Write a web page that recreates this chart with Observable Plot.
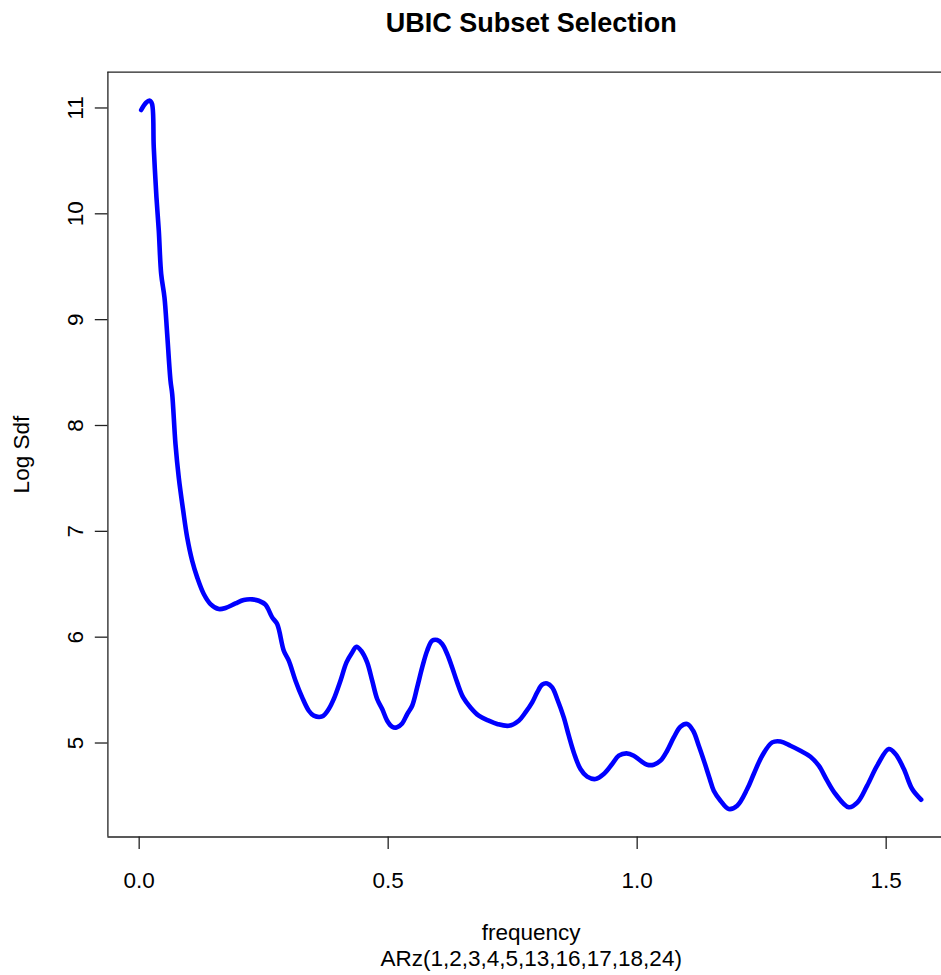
<!DOCTYPE html>
<html>
<head>
<meta charset="utf-8">
<script src="https://cdn.jsdelivr.net/npm/d3@7"></script>
<script src="https://cdn.jsdelivr.net/npm/@observablehq/plot@0.6"></script>
<style>
  html, body { margin: 0; padding: 0; background: white; }
  #chart svg { display: block; }
</style>
</head>
<body>
<div id="chart"></div>
<script>
const title = "UBIC Subset Selection";
const xLabel = "frequency";
const subLabel = "ARz(1,2,3,4,5,13,16,17,18,24)";
const yLabel = "Log Sdf";
const xTicks = [0.0, 0.5, 1.0, 1.5];
const yTicks = [5, 6, 7, 8, 9, 10, 11];

const frequency = [
  0.0040, 0.0137, 0.0213, 0.0257, 0.0293, 0.0347, 0.0394, 0.0442, 0.0508, 0.0562,
  0.0629, 0.0663, 0.0729, 0.0795, 0.0884, 0.0964, 0.1064, 0.1165, 0.1297, 0.1432,
  0.1598, 0.1733, 0.1934, 0.2100, 0.2269, 0.2402, 0.2536, 0.2671, 0.2771, 0.2904,
  0.3004, 0.3139, 0.3273, 0.3406, 0.3506, 0.3675, 0.3807, 0.3908, 0.4042, 0.4163,
  0.4277, 0.4363, 0.4458, 0.4578, 0.4679, 0.4779, 0.4880, 0.4980, 0.5080, 0.5167,
  0.5281, 0.5382, 0.5482, 0.5582, 0.5683, 0.5783, 0.5884, 0.5984, 0.6084, 0.6185,
  0.6285, 0.6386, 0.6506, 0.6653, 0.6819, 0.7020, 0.7189, 0.7422, 0.7622, 0.7757,
  0.7892, 0.7992, 0.8092, 0.8193, 0.8293, 0.8394, 0.8526, 0.8627, 0.8727, 0.8861,
  0.8996, 0.9163, 0.9329, 0.9498, 0.9631, 0.9785, 0.9932, 1.0066, 1.0201, 1.0333,
  1.0468, 1.0602, 1.0735, 1.0869, 1.1004, 1.1124, 1.1237, 1.1351, 1.1458, 1.1538,
  1.1673, 1.1839, 1.2008, 1.2209, 1.2341, 1.2510, 1.2711, 1.2878, 1.3078, 1.3279,
  1.3480, 1.3647, 1.3815, 1.3982, 1.4249, 1.4424, 1.4618, 1.4819, 1.5052, 1.5187,
  1.5353, 1.5522, 1.5703
];
const logSdf = [
  10.981, 11.050, 11.069, 11.040, 10.627, 10.155, 9.840, 9.431, 9.210, 8.867,
  8.423, 8.297, 7.825, 7.509, 7.195, 6.943, 6.722, 6.565, 6.408, 6.313,
  6.266, 6.276, 6.319, 6.351, 6.357, 6.344, 6.307, 6.187, 6.124, 5.872,
  5.778, 5.589, 5.431, 5.305, 5.258, 5.251, 5.321, 5.416, 5.589, 5.762,
  5.856, 5.910, 5.872, 5.762, 5.589, 5.416, 5.321, 5.211, 5.154, 5.147,
  5.185, 5.274, 5.352, 5.525, 5.714, 5.872, 5.967, 5.973, 5.935, 5.841,
  5.714, 5.573, 5.431, 5.336, 5.258, 5.211, 5.180, 5.163, 5.211, 5.289,
  5.384, 5.478, 5.551, 5.563, 5.525, 5.416, 5.242, 5.069, 4.911, 4.754,
  4.682, 4.660, 4.707, 4.802, 4.880, 4.902, 4.880, 4.833, 4.795, 4.795,
  4.833, 4.927, 5.053, 5.154, 5.180, 5.116, 4.974, 4.817, 4.660, 4.549,
  4.455, 4.376, 4.408, 4.565, 4.707, 4.880, 5.006, 5.015, 4.974, 4.927,
  4.871, 4.786, 4.644, 4.518, 4.393, 4.439, 4.597, 4.786, 4.943, 4.896,
  4.757, 4.565, 4.464
];

const data = frequency.map((f, i) => ({f, v: logSdf[i]}));
const xDomain = [-0.0628, 1.6111];
const yDomain = [4.112, 11.338];
const xCenter = (d3.min(frequency) + d3.max(frequency)) / 2;
const font = "'Liberation Sans', Arial, Helvetica, sans-serif";

const chart = Plot.plot({
  width: 941,
  height: 975,
  marginLeft: 107.4,
  marginRight: 0,
  marginTop: 71.7,
  marginBottom: 138.5,
  style: {fontFamily: font, fontSize: "22.5px", background: "white", color: "black"},
  x: {domain: xDomain},
  y: {domain: yDomain},
  marks: [
    Plot.axisX({ticks: xTicks, tickFormat: d3.format(".1f"), tickSize: 12.6, tickPadding: 22.6,
      fontSize: 22.5, label: null, strokeWidth: 1.3, stroke: "#222"}),
    Plot.axisY({ticks: yTicks, tickFormat: d => String(d), tickRotate: -90, tickSize: 12.6, tickPadding: 12.5,
      fontSize: 22.5, label: null, strokeWidth: 1.3, stroke: "#222"}),
    Plot.ruleX([xDomain[0]], {stroke: "#222", strokeWidth: 1.3}),
    Plot.ruleY(yDomain, {stroke: "#222", strokeWidth: 1.3}),
    Plot.line(data, {x: "f", y: "v", stroke: "#0000ff", strokeWidth: 4.6, curve: "catmull-rom",
      strokeLinejoin: "round", strokeLinecap: "round"}),
    Plot.text([title], {x: [xCenter], text: d => d, frameAnchor: "top", dy: -40,
      lineAnchor: "bottom", fontSize: 27, fontWeight: "bold", fill: "black"}),
    Plot.text([xLabel], {x: [xCenter], text: d => d, frameAnchor: "bottom", dy: 102.5,
      lineAnchor: "bottom", fontSize: 22.5, fill: "black"}),
    Plot.text([subLabel], {x: [xCenter], text: d => d, frameAnchor: "bottom", dy: 129,
      lineAnchor: "bottom", fontSize: 22.5, fill: "black"}),
    Plot.text([yLabel], {text: d => d, frameAnchor: "left", dx: -78.6, rotate: -90,
      textAnchor: "middle", lineAnchor: "bottom", fontSize: 22.5, fill: "black"})
  ]
});
document.getElementById("chart").appendChild(chart);
</script>
</body>
</html>
